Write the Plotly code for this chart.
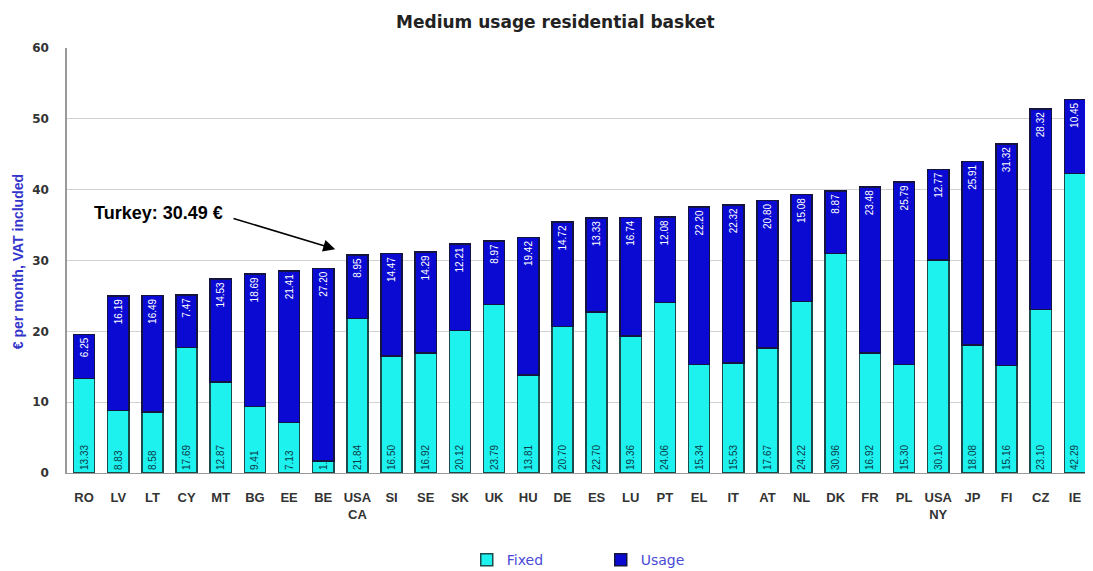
import plotly.graph_objects as go

categories = ["RO", "LV", "LT", "CY", "MT", "BG", "EE", "BE", "USA<br>CA", "SI", "SE", "SK", "UK", "HU",
              "DE", "ES", "LU", "PT", "EL", "IT", "AT", "NL", "DK", "FR", "PL", "USA<br>NY", "JP", "FI", "CZ", "IE"]
fixed = [13.33, 8.83, 8.58, 17.69, 12.87, 9.41, 7.13, 1.70, 21.84, 16.50, 16.92, 20.12, 23.79, 13.81,
         20.70, 22.70, 19.36, 24.06, 15.34, 15.53, 17.67, 24.22, 30.96, 16.92, 15.30, 30.10, 18.08, 15.16, 23.10, 42.29]
usage = [6.25, 16.19, 16.49, 7.47, 14.53, 18.69, 21.41, 27.20, 8.95, 14.47, 14.29, 12.21, 8.97, 19.42,
         14.72, 13.33, 16.74, 12.08, 22.20, 22.32, 20.80, 15.08, 8.87, 23.48, 25.79, 12.77, 25.91, 31.32, 28.32, 10.45]
y_ticks = [0, 10, 20, 30, 40, 50, 60]

x_idx = list(range(len(categories)))

fig = go.Figure()
fig.add_trace(go.Bar(
    x=x_idx, y=fixed, name="Fixed",
    marker=dict(color="#1ef2ee", line=dict(color="#1d4a4a", width=1.5)),
    text=[f"{v:.2f}" for v in fixed], textposition="inside", insidetextanchor="start",
    textangle=-90, textfont=dict(color="#0a3c4a", size=10, family="Arial"),
))
fig.add_trace(go.Bar(
    x=x_idx, y=usage, name="Usage",
    marker=dict(color="#0a0ad2", line=dict(color="#141440", width=1.5)),
    text=[f"{v:.2f}" for v in usage], textposition="inside", insidetextanchor="end",
    textangle=-90, textfont=dict(color="white", size=10, family="Arial"),
))

# page body has an 8px margin: figure sized/positioned to compensate
fig.update_layout(
    barmode="stack", bargap=0.38,
    width=1085, height=563,
    margin=dict(l=59, r=1, t=40, b=98, autoexpand=False),
    paper_bgcolor="white", plot_bgcolor="white",
    uniformtext=dict(minsize=10, mode="show"),
    title=dict(text="<b>Medium usage residential basket</b>", x=0.5045, xanchor="center",
               y=0.975, yanchor="middle", font=dict(family="DejaVu Sans", size=17, color="#222")),
    font=dict(family="Arial"),
    showlegend=True,
    legend=dict(orientation="h", x=0.39, xanchor="left", y=-0.205, yanchor="middle",
                font=dict(color="#4a4ad8", size=14, family="DejaVu Sans"), itemwidth=30,
                traceorder="normal", entrywidth=89),
    xaxis=dict(tickmode="array", tickvals=x_idx, ticktext=[f"<b>{c}</b>" for c in categories],
               range=[-0.5, len(categories) - 0.5], automargin=False,
               tickfont=dict(size=13, color="#333", family="Arial"), ticklabelstandoff=12,
               showline=True, linecolor="#999", linewidth=1, ticks="", showgrid=False),
    yaxis=dict(range=[0, 60], tickvals=y_ticks, ticktext=[f"<b>{t}</b>" for t in y_ticks],
               tickfont=dict(size=12, color="#333", family="DejaVu Sans"), ticklabelstandoff=14,
               automargin=False,
               showline=True, linecolor="#999", linewidth=1.5,
               showgrid=True, gridcolor="#d2d2d2", gridwidth=1, zeroline=False),
)

fig.add_annotation(x=-0.0478, y=0.496, xref="paper", yref="paper", text="<b>€ per month, VAT included</b>",
                   textangle=-90, showarrow=False, xanchor="center", yanchor="middle",
                   font=dict(size=14, color="#3535cc", family="Arial"))

# Turkey annotation
fig.add_annotation(x=7.35, y=31.6, ax=4.33, ay=36.0, axref="x", ayref="y", xref="x", yref="y",
                   text="", showarrow=True, arrowhead=2, arrowsize=1.6, arrowwidth=1.5, arrowcolor="black")
fig.add_annotation(x=4.13, y=36.7, xref="x", yref="y", text="<b>Turkey: 30.49 €</b>", showarrow=False,
                   xanchor="right", yanchor="middle", font=dict(family="Liberation Sans", size=18, color="black"))

fig.write_html("out.html")
